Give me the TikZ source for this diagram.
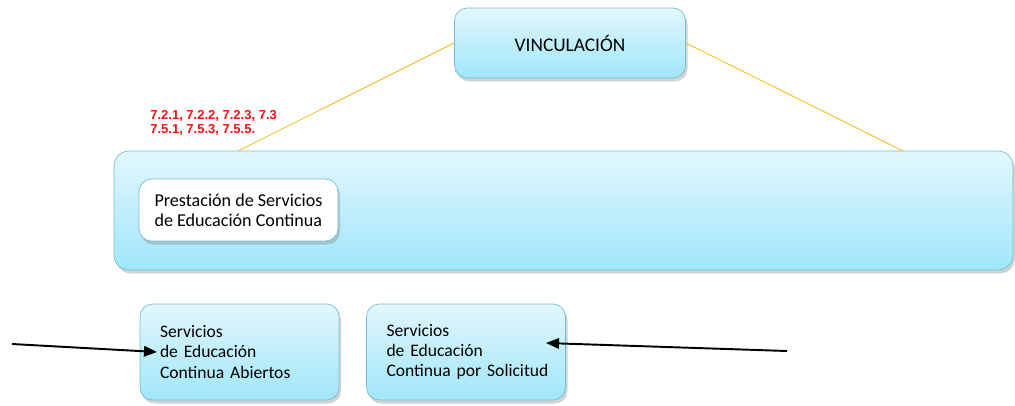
\documentclass[tikz,border=0pt]{standalone}
\usepackage{fontspec}
\setmainfont{Carlito}
\newfontfamily\numfont{Liberation Sans}
\usepackage{xcolor}
\usetikzlibrary{arrows.meta, positioning, shadows}
\definecolor{boxtop}{HTML}{E2F7FD}
\definecolor{boxbottom}{HTML}{A0E6FA}
\definecolor{boxline}{HTML}{78BDD0}
\definecolor{linkline}{HTML}{F7C43C}
\definecolor{refred}{HTML}{F41010}

\begin{document}
\begin{tikzpicture}[
  bluebox/.style={draw=boxline, rounded corners=0.25cm, top color=boxtop, bottom color=boxbottom,
    drop shadow={shadow xshift=0.4mm, shadow yshift=-0.7mm, opacity=0.35}, font=\fontsize{10}{11.4}\selectfont},
  whitebox/.style={bluebox, top color=white, bottom color=white},
  listbox/.style={bluebox, text width=3.18cm, inner xsep=0.4cm, align=left, minimum height=1.92cm},
  link/.style={draw=linkline, line width=0.6pt},
  pointer/.style={line width=1.1pt, -{Triangle[length=2.6mm, width=2.1mm]}}
]
\useasboundingbox (0,0) rectangle (20.3,8.1);
\node[bluebox, minimum width=4.62cm, minimum height=1.4cm, font=\fontsize{11}{12}\selectfont] (vinc) at (11.4,7.24) {VINCULACIÓN};
\coordinate (linkL) at (4.76,5.08);
\coordinate (linkR) at (18.06,5.08);
\draw[link] (vinc.west) -- (linkL);
\draw[link] (vinc.east) -- (linkR);
\node[bluebox, rounded corners=0.3cm, minimum width=17.98cm, minimum height=2.38cm] (area) at (11.27,3.89) {};
\node[whitebox, minimum width=3.98cm, minimum height=1.24cm, align=left, font=\fontsize{10.3}{11.2}\selectfont] (prest) at (4.77,3.9) {Prestación de Servicios\\de Educación Continua};
\node[anchor=west, text=refred, font=\numfont\bfseries\fontsize{7.4}{8}\selectfont, align=left, inner sep=0pt] (refs) at (3.0,5.64) {7.2.1, 7.2.2, 7.2.3, 7.3\\7.5.1, 7.5.3, 7.5.5.};
\node[listbox] (open) at (4.79,1.06) {Servicios\\de Educación\\Continua Abiertos};
\node[listbox] (request) at (9.32,1.06) {Servicios\\de Educación\\\mbox{Continua por Solicitud}};
\coordinate (inL) at (0.24,1.22);
\coordinate (tipL) at (3.14,1.06);
\coordinate (inR) at (15.74,1.08);
\coordinate (tipR) at (10.92,1.24);
\draw[pointer] (inL) -- (tipL);
\draw[pointer] (inR) -- (tipR);
\end{tikzpicture}
\end{document}
